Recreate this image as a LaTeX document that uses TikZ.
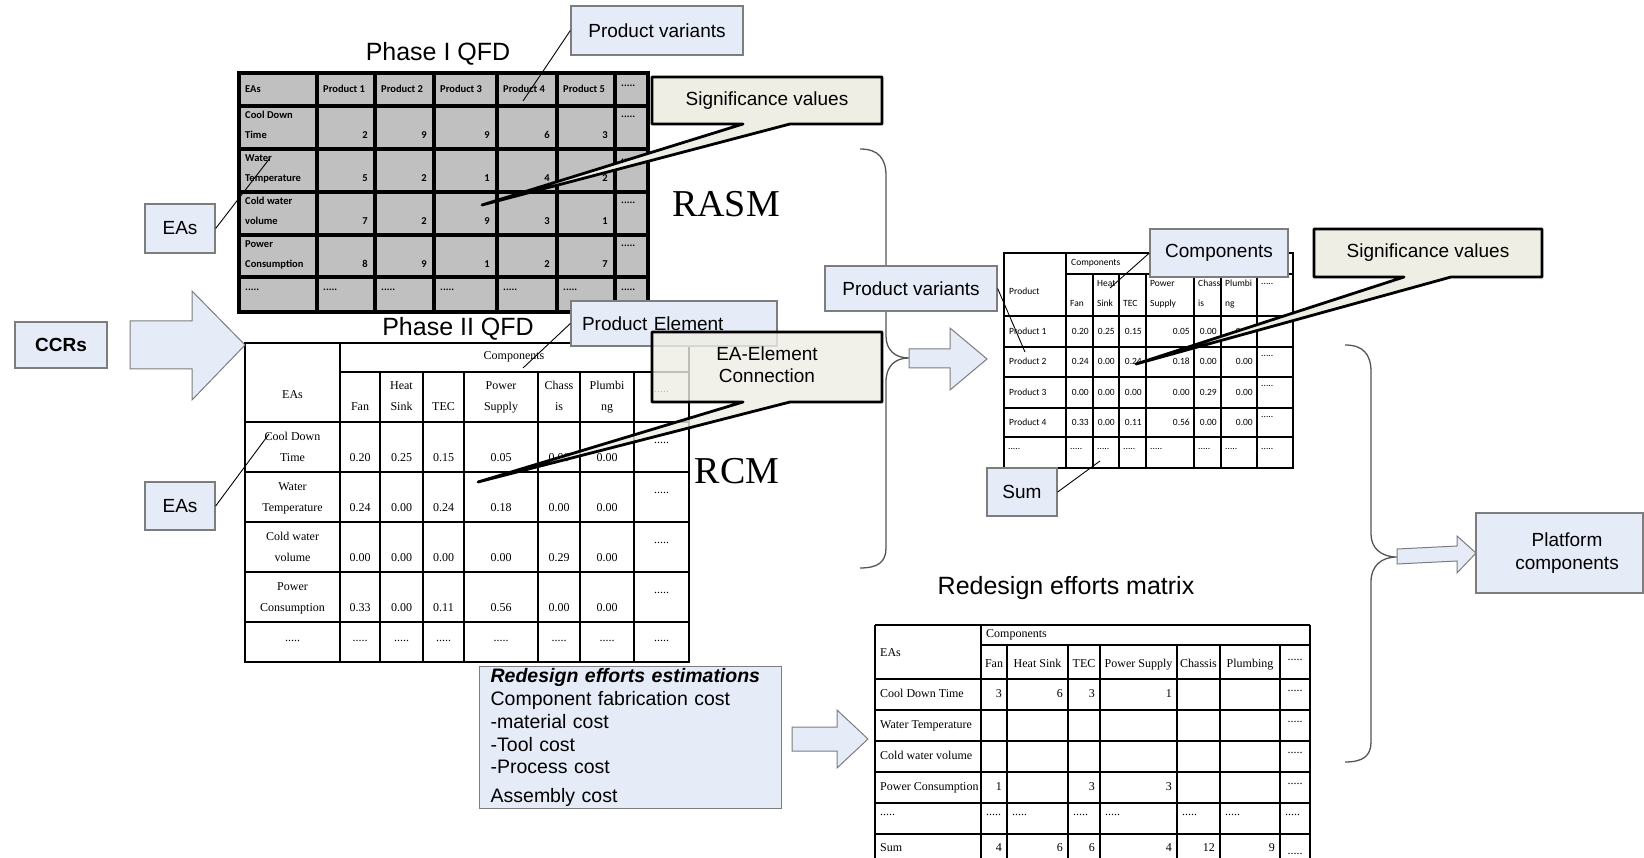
\documentclass[tikz,border=0pt]{standalone}
\usepackage{fontspec}
\setmainfont{Liberation Sans}
\newfontfamily\tabserif{Liberation Serif}
\newfontfamily\tabcali{Carlito}
\usetikzlibrary{calc}
\definecolor{boxblue}{RGB}{229,235,247}
\definecolor{boxedge}{RGB}{125,125,125}
\definecolor{notefill}{RGB}{238,238,228}
\definecolor{cellgray}{RGB}{192,192,192}
\definecolor{bracegray}{RGB}{85,85,85}
\begin{document}
\begin{tikzpicture}[x=1pt,y=-1pt,
  bluebox/.style={draw=boxedge,line width=1.3pt,fill=boxblue,inner sep=0pt,align=center,font=\fontsize{19}{22.5}\selectfont},
  notetext/.style={inner sep=0pt,align=center,font=\fontsize{19}{22.5}\selectfont},
  noteshape/.style={draw=black,line width=2.8pt,fill=notefill,line join=round},
  leader/.style={draw=black,line width=0.9pt},
  blockarrow/.style={draw=boxedge,line width=1pt,fill=boxblue},
  bracepath/.style={draw=bracegray,line width=1.3pt},
  headline/.style={inner sep=0pt,font=\fontsize{25}{30}\selectfont},
  bigword/.style={inner sep=0pt,font=\tabserif\fontsize{38}{44}\selectfont},
  pone/.style={inner sep=0pt,font=\tabcali\bfseries\fontsize{10.5}{12}\selectfont,text height=7.5pt,text depth=2pt},
  ptwo/.style={inner sep=0pt,font=\tabserif\fontsize{12}{14}\selectfont,text height=8.5pt,text depth=2.5pt},
  pthree/.style={inner sep=0pt,font=\tabcali\fontsize{9.5}{11}\selectfont,text height=7pt,text depth=2pt},
  thickgrid/.style={line width=3.5pt},
  thingrid/.style={line width=1.2pt},
  midgrid/.style={line width=2.6pt},
]
\useasboundingbox (0,0) rectangle (1644,858);
\clip (0,0) rectangle (1644,858);

% ---------- Phase I QFD table ----------
\fill[cellgray] (239,73) rectangle (648,312);
\foreach \x in {317,375,434,497,557,615} \draw[thickgrid] (\x,73) -- (\x,312);
\foreach \y in {106,149,192,235,277} \draw[thickgrid] (239,\y) -- (648,\y);
\draw[line width=4.5pt] (239,73) rectangle (648,312);
\node[pone,anchor=west] (qa-h0) at (245,90) {EAs};
\foreach \xs [count=\i] in {317,375,434,497,557}
  \node[pone,anchor=west] (qa-h\i) at (\xs+6,90) {Product \i};
\node[pone,anchor=west] (qa-h6) at (621,84) {.....};
\foreach \rowy/\lbla/\lblb/\va/\vb/\vc/\vd/\ve [count=\rr] in
  {106/Cool Down/Time/2/9/9/6/3, 149/Water/Temperature/5/2/1/4/2,
   192/Cold water/volume/7/2/9/3/1, 235/Power/Consumption/8/9/1/2/7} {
  \node[pone,anchor=west] (qa-r\rr-a) at (245,\rowy+10) {\lbla};
  \node[pone,anchor=west] (qa-r\rr-b) at (245,\rowy+30) {\lblb};
  \foreach \v/\xr [count=\cc] in {\va/375,\vb/434,\vc/497,\vd/557,\ve/615}
    \node[pone,anchor=east] (qa-r\rr-c\cc) at (\xr-7,\rowy+30) {\v};
  \node[pone,anchor=west] (qa-r\rr-d) at (621,\rowy+9) {.....};
}
\foreach \xs [count=\i] in {239,317,375,434,497,557,615}
  \node[pone,anchor=west] (qa-e\i) at (\xs+6,288) {.....};

% ---------- Phase II QFD table ----------
\draw[thingrid] (245,343) rectangle (689,662);
\draw[thingrid] (340,372) -- (689,372);
\foreach \y in {422,472,522,572,622} \draw[thingrid] (245,\y) -- (689,\y);
\draw[thingrid] (340,343) -- (340,662);
\foreach \x in {380,423,464,538,580,634} \draw[thingrid] (\x,372) -- (\x,662);
\node[ptwo] (qb-comp) at (514,357) {Components};
\node[ptwo] (qb-eas) at (292.5,396) {EAs};
\foreach \xc/\ta/\tb [count=\i] in {360//Fan,401.5/Heat/Sink,443.5//TEC,501/Power/Supply,559/Chass/is,607/Plumbi/ng} {
  \node[ptwo] (qb-sa\i) at (\xc,387) {\ta};
  \node[ptwo] (qb-sb\i) at (\xc,408) {\tb};
}
\node[ptwo] (qb-s7) at (661.5,390) {.....};
\foreach \rowy/\lbla/\lblb/\va/\vb/\vc/\vd/\ve/\vf [count=\rr] in
  {422/Cool Down/Time/0.20/0.25/0.15/0.05/0.00/0.00,
   472/Water/Temperature/0.24/0.00/0.24/0.18/0.00/0.00,
   522/Cold water/volume/0.00/0.00/0.00/0.00/0.29/0.00,
   572/Power/Consumption/0.33/0.00/0.11/0.56/0.00/0.00} {
  \node[ptwo] (qb-r\rr-a) at (292.5,\rowy+15) {\lbla};
  \node[ptwo] (qb-r\rr-b) at (292.5,\rowy+36) {\lblb};
  \foreach \v/\xc [count=\cc] in {\va/360,\vb/401.5,\vc/443.5,\vd/501,\ve/559,\vf/607}
    \node[ptwo] (qb-r\rr-c\cc) at (\xc,\rowy+36) {\v};
  \node[ptwo] (qb-r\rr-d) at (661.5,\rowy+18) {.....};
}
\foreach \xc [count=\i] in {292.5,360,401.5,443.5,501,559,607,661.5}
  \node[ptwo] (qb-e\i) at (\xc,638) {.....};

% ---------- product / component matrix ----------
\draw[midgrid] (1004,253) rectangle (1293,468);
\draw[midgrid] (1066,274) -- (1293,274);
\foreach \y in {316,347,377,408,437} \draw[midgrid] (1004,\y) -- (1293,\y);
\draw[midgrid] (1066,253) -- (1066,468);
\foreach \x in {1093,1119,1146,1194,1221,1257} \draw[midgrid] (\x,274) -- (\x,468);
\node[pthree,anchor=west] (qc-comp) at (1071,263) {Components};
\node[pthree,anchor=west] (qc-prod) at (1009,292) {Product};
\foreach \xs/\ta/\tb [count=\i] in {1066//Fan,1093/Heat/Sink,1119//TEC,1146/Power/Supply,1194/Chass/is,1221/Plumbi/ng} {
  \node[pthree,anchor=west] (qc-sa\i) at (\xs+4,284) {\ta};
  \node[pthree,anchor=west] (qc-sb\i) at (\xs+4,304) {\tb};
}
\node[pthree,anchor=west] (qc-s7) at (1261,282) {.....};
\foreach \rowy/\rowh/\lbla/\va/\vb/\vc/\vd/\ve/\vf [count=\rr] in
  {316/31/Product 1/0.20/0.25/0.15/0.05/0.00/0.00,
   347/30/Product 2/0.24/0.00/0.24/0.18/0.00/0.00,
   377/31/Product 3/0.00/0.00/0.00/0.00/0.29/0.00,
   408/29/Product 4/0.33/0.00/0.11/0.56/0.00/0.00} {
  \node[pthree,anchor=west] (qc-r\rr-a) at (1009,\rowy+\rowh/2+0.5) {\lbla};
  \foreach \v/\xr [count=\cc] in {\va/1093,\vb/1119,\vc/1146,\vd/1194,\ve/1221,\vf/1257}
    \node[pthree,anchor=east] (qc-r\rr-c\cc) at (\xr-4,\rowy+\rowh/2+0.5) {\v};
  \node[pthree,anchor=west] (qc-r\rr-d) at (1261,\rowy+7) {.....};
}
\foreach \xs [count=\i] in {1004,1066,1093,1119,1146,1194,1221,1257}
  \node[pthree,anchor=west] (qc-e\i) at (\xs+4,447) {.....};

% ---------- redesign efforts matrix ----------
\draw[midgrid] (875,625) -- (1310,625);
\draw[midgrid] (875,625) -- (875,870);
\draw[midgrid] (1310,625) -- (1310,870);
\draw[midgrid] (981,645) -- (1310,645);
\foreach \y in {679,710,741,772,803,834} \draw[midgrid] (875,\y) -- (1310,\y);
\draw[midgrid] (981,625) -- (981,870);
\foreach \x in {1007,1068,1100,1177,1220,1280} \draw[midgrid] (\x,645) -- (\x,870);
\node[ptwo,anchor=west] (qd-comp) at (986,634) {Components};
\node[ptwo,anchor=west] (qd-eas) at (880,653) {EAs};
\foreach \xc/\t [count=\i] in {994/Fan,1037.5/Heat Sink,1084/TEC,1138.5/Power Supply,1198.5/Chassis,1250/Plumbing}
  \node[ptwo] (qd-s\i) at (\xc,664) {\t};
\node[ptwo] (qd-s7) at (1295,657) {.....};
\foreach \rowy/\lbla [count=\rr] in {679/Cool Down Time,710/Water Temperature,741/Cold water volume,772/Power Consumption} {
  \node[ptwo,anchor=west] (qd-r\rr-a) at (880,\rowy+15.5) {\lbla};
  \node[ptwo] (qd-r\rr-d) at (1295,\rowy+9) {.....};
}
\node[ptwo,anchor=east] (qd-r1-c1) at (1002,694.5) {3};
\node[ptwo,anchor=east] (qd-r1-c2) at (1063,694.5) {6};
\node[ptwo,anchor=east] (qd-r1-c3) at (1095,694.5) {3};
\node[ptwo,anchor=east] (qd-r1-c4) at (1172,694.5) {1};
\node[ptwo,anchor=east] (qd-r4-c1) at (1002,787.5) {1};
\node[ptwo,anchor=east] (qd-r4-c3) at (1095,787.5) {3};
\node[ptwo,anchor=east] (qd-r4-c4) at (1172,787.5) {3};
\foreach \xs [count=\i] in {875,981,1007,1068,1100,1177,1220,1280}
  \node[ptwo,anchor=west] (qd-e\i) at (\xs+5,812) {.....};
\node[ptwo,anchor=west] (qd-sum) at (880,848) {Sum};
\foreach \v/\xr [count=\i] in {4/1007,6/1068,6/1100,4/1177,12/1220,9/1280}
  \node[ptwo,anchor=east] (qd-t\i) at (\xr-5,848) {\v};
\node[ptwo] (qd-t7) at (1295,851) {.....};

% ---------- titles ----------
\node[headline] (t-one) at (438,54) {Phase I QFD};
\node[headline] (t-two) at (458,329) {Phase II QFD};
\node[headline] (t-three) at (1066,588) {Redesign efforts matrix};
\node[bigword] (rasm) at (726,204) {RASM};
\node[bigword] (rcm) at (737,471) {RCM};

% ---------- braces ----------
\draw[bracepath] (860,149) .. controls (878,149) and (886,158) .. (886,176)
  -- (886,336) .. controls (886,350) and (895,358) .. (909,358)
  .. controls (895,358) and (886,366) .. (886,382)
  -- (886,548) .. controls (886,562) and (878,568) .. (860,568);
\draw[bracepath] (1345,345) .. controls (1363,345) and (1371,354) .. (1371,372)
  -- (1371,534) .. controls (1371,548) and (1381,557) .. (1397,557)
  .. controls (1381,557) and (1371,566) .. (1371,582)
  -- (1371,742) .. controls (1371,756) and (1363,762) .. (1345,762);

% ---------- block arrows ----------
\draw[blockarrow] (130,321) -- (192,321) -- (192,291) -- (245,345) -- (192,400) -- (192,369) -- (130,369) -- cycle;
\draw[blockarrow] (909,349) -- (950,349) -- (950,328) -- (987,359) -- (950,390) -- (950,368) -- (909,368) -- cycle;
\draw[blockarrow] (1397,549) -- (1457,546) -- (1457,536) -- (1476,553) -- (1457,573) -- (1457,561) -- (1397,564) -- cycle;
\draw[blockarrow] (792,727) -- (837,727) -- (837,710) -- (868,739) -- (837,768) -- (837,751) -- (792,751) -- cycle;

% ---------- labelled boxes ----------
\node[bluebox,minimum width=172pt,minimum height=49pt] (pvtop) at (657,30.5) {Product variants};
\node[bluebox,minimum width=70pt,minimum height=49pt] (easA) at (180,228.5) {EAs};
\node[bluebox,minimum width=70pt,minimum height=48pt] (easB) at (180,506) {EAs};
\node[bluebox,minimum width=92pt,minimum height=46pt] (ccrs) at (61,345) {\bfseries CCRs};
\node[bluebox,align=left,text width=184pt,inner xsep=11pt,minimum height=45pt] (prodel) at (674,323.5) {Product Element};
\node[bluebox,minimum width=172pt,minimum height=45pt] (pvright) at (911,288.5) {Product variants};
\node[bluebox,minimum width=138pt,minimum height=48pt] (comp) at (1219,253) {Components};
\node[bluebox,minimum width=70pt,minimum height=48pt] (sum) at (1022,492) {Sum};
\node[bluebox,minimum width=167pt,minimum height=80pt] (platform) at (1559.5,553)
  {\hspace*{15pt}Platform\\\hspace*{15pt}components};
\node[bluebox,anchor=north west,align=left,text width=280pt,inner xsep=11pt,inner ysep=2pt,
      minimum height=139pt,font=\fontsize{19.5}{22.8}\selectfont] (estim) at (479,666)
  {\textbf{\textit{Redesign efforts estimations}}\\Component fabrication cost\\-material cost\\-Tool cost\\-Process cost\\[6pt]Assembly cost};

% ---------- leader lines ----------
\coordinate (pv-end) at (523,101);
\coordinate (easA-end) at (270,158);
\coordinate (easB-end) at (269,434);
\coordinate (pe-end) at (523,368);
\coordinate (pvr-end) at (1025,352);
\coordinate (comp-end) at (1110,288);
\coordinate (sum-end) at (1100,461);
\draw[leader] (pvtop.west) -- (pv-end);
\draw[leader] (easA.east) -- (easA-end);
\draw[leader] (easB.east) -- (easB-end);
\draw[leader] (prodel.west) -- (pe-end);
\draw[leader] (pvright.east) -- (pvr-end);
\draw[leader] (comp.west) -- (comp-end);
\draw[leader] (sum.east) -- (sum-end);

% ---------- pointed notes ----------
\draw[noteshape] (652,77) -- (882,77) -- (882,124) -- (790,124) -- (482,205) -- (743,124) -- (652,124) -- cycle;
\node[notetext] (sigA) at (767,100.5) {Significance values};
\draw[noteshape,fill opacity=0.8] (652,332) -- (882,332) -- (882,402) -- (790,402) -- (478,482) -- (743,402) -- (652,402) -- cycle;
\node[notetext] (eael) at (767,364.5) {EA-Element\\Connection};
\draw[noteshape] (1314,229) -- (1542,229) -- (1542,277) -- (1451,277) -- (1136,364) -- (1404,277) -- (1314,277) -- cycle;
\node[notetext] (sigB) at (1428,253) {Significance values};
\end{tikzpicture}
\end{document}
